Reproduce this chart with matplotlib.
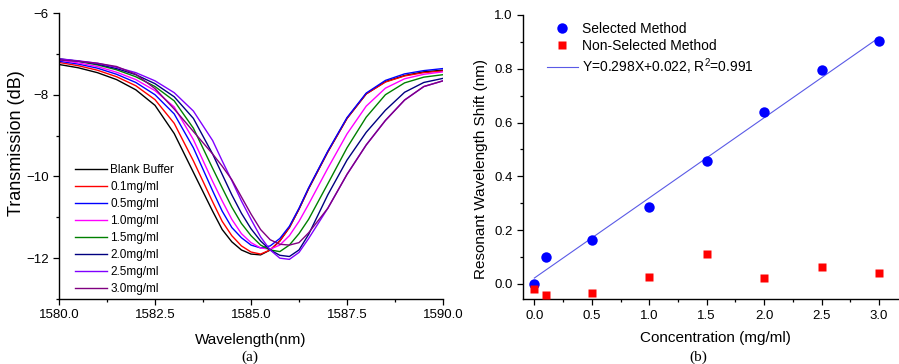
import numpy as np
import matplotlib.pyplot as plt
from matplotlib.ticker import MultipleLocator, FormatStrFormatter

plt.rcParams['font.family'] = ['Liberation Sans', 'DejaVu Sans']
plt.rcParams['mathtext.default'] = 'regular'

# ---- panel (a): transmission spectra ----
wavelength = [1580, 1580.5, 1581, 1581.5, 1582, 1582.5, 1583, 1583.5, 1584, 1584.25,
              1584.5, 1584.75, 1585, 1585.25, 1585.5, 1585.75, 1586, 1586.25, 1586.5,
              1587, 1587.5, 1588, 1588.5, 1589, 1589.5, 1590]

blank = [-7.26, -7.34, -7.46, -7.63, -7.88, -8.26, -8.95, -9.90, -10.85, -11.30,
         -11.60, -11.80, -11.90, -11.92, -11.80, -11.58, -11.25, -10.80, -10.30,
         -9.40, -8.58, -7.98, -7.68, -7.53, -7.44, -7.40]
c01 = [-7.21, -7.29, -7.40, -7.56, -7.78, -8.12, -8.70, -9.62, -10.62, -11.10,
       -11.45, -11.70, -11.85, -11.90, -11.80, -11.58, -11.25, -10.80, -10.30,
       -9.40, -8.58, -7.98, -7.69, -7.54, -7.46, -7.42]
c05 = [-7.18, -7.25, -7.35, -7.50, -7.70, -8.00, -8.47, -9.30, -10.35, -10.85,
       -11.25, -11.50, -11.68, -11.75, -11.70, -11.52, -11.22, -10.78, -10.28,
       -9.38, -8.56, -7.96, -7.65, -7.49, -7.41, -7.36]
c10 = [-7.15, -7.22, -7.31, -7.45, -7.63, -7.90, -8.30, -9.10, -10.12, -10.60,
       -11.05, -11.40, -11.62, -11.75, -11.78, -11.68, -11.45, -11.10, -10.68,
       -9.80, -8.96, -8.28, -7.84, -7.61, -7.50, -7.44]
c15 = [-7.12, -7.18, -7.27, -7.39, -7.56, -7.80, -8.15, -8.82, -9.80, -10.28,
       -10.75, -11.15, -11.45, -11.68, -11.80, -11.84, -11.68, -11.40, -11.05,
       -10.18, -9.30, -8.55, -8.00, -7.71, -7.57, -7.51]
c20 = [-7.13, -7.18, -7.25, -7.36, -7.51, -7.73, -8.05, -8.58, -9.45, -9.95,
       -10.45, -10.90, -11.28, -11.58, -11.80, -11.93, -11.96, -11.80, -11.42,
       -10.45, -9.60, -8.92, -8.38, -7.94, -7.70, -7.60]
c25 = [-7.12, -7.17, -7.23, -7.33, -7.46, -7.66, -7.95, -8.40, -9.12, -9.62,
       -10.10, -10.60, -11.05, -11.48, -11.80, -12.00, -12.03, -11.86, -11.52,
       -10.78, -9.95, -9.23, -8.63, -8.13, -7.80, -7.66]
c30 = [-7.15, -7.18, -7.23, -7.31, -7.50, -7.85, -8.35, -8.90, -9.45, -9.75,
       -10.08, -10.50, -10.92, -11.30, -11.55, -11.66, -11.68, -11.62, -11.38,
       -10.78, -9.95, -9.23, -8.63, -8.13, -7.80, -7.66]

spectra = [blank, c01, c05, c10, c15, c20, c25, c30]
spec_labels = ['Blank Buffer', '0.1mg/ml', '0.5mg/ml', '1.0mg/ml',
               '1.5mg/ml', '2.0mg/ml', '2.5mg/ml', '3.0mg/ml']
spec_colors = ['#000000', '#ff0000', '#0000ff', '#ff00ff',
               '#008000', '#000080', '#8000ff', '#800080']

# ---- panel (b): resonance shift vs concentration ----
conc = [0.0, 0.1, 0.5, 1.0, 1.5, 2.0, 2.5, 3.0]
shift_sel = [0.0, 0.100, 0.165, 0.287, 0.457, 0.638, 0.795, 0.902]
shift_nonsel = [-0.017, -0.040, -0.033, 0.025, 0.112, 0.024, 0.064, 0.039]
fit_slope = 0.298
fit_icpt = 0.022

fig = plt.figure(figsize=(8.99, 3.64), dpi=100)


def style_axes(ax):
    for s in ['top', 'right']:
        ax.spines[s].set_visible(False)
    for s in ['left', 'bottom']:
        ax.spines[s].set_linewidth(1.0)
    ax.tick_params(which='major', direction='out', length=4, width=0.9, labelsize=9.5)
    ax.tick_params(which='minor', direction='out', length=2.5, width=0.9)


# left panel
ax1 = fig.add_axes([59 / 899, 65 / 364, 384 / 899, 286 / 364])
for y, lab, col in zip(spectra, spec_labels, spec_colors):
    ax1.plot(wavelength, y, color=col, lw=1.0, label=lab)
ax1.set_xlim(1580, 1590)
ax1.set_ylim(-13, -6)
ax1.xaxis.set_major_locator(MultipleLocator(2.5))
ax1.xaxis.set_minor_locator(MultipleLocator(1.25))
ax1.xaxis.set_major_formatter(FormatStrFormatter('%.1f'))
ax1.yaxis.set_major_locator(MultipleLocator(2))
ax1.yaxis.set_minor_locator(MultipleLocator(1))
style_axes(ax1)
ax1.set_xlabel('Wavelength(nm)', fontsize=11, labelpad=8)
ax1.set_ylabel('Transmission (dB)', fontsize=13)
ax1.yaxis.set_label_coords(-0.088, 0.545)
ax1.legend(loc='lower left', bbox_to_anchor=(0.02, -0.014), frameon=False,
           fontsize=8.5, handlelength=2.7, handletextpad=0.3, labelspacing=0.42,
           borderaxespad=0.3)
fig.text(250 / 899, 1 - 357 / 364, '(a)', family='Liberation Serif',
         fontsize=11, ha='center', va='center')

# right panel
ax2 = fig.add_axes([523.3 / 899, 64.7 / 364, 374.7 / 899, 284.3 / 364])
fx = np.array([0.0, 3.0])
ax2.plot(fx, fit_slope * fx + fit_icpt, color='#5a5ae6', lw=0.8,
         label='Y=0.298X+0.022, R$^{2}$=0.991', zorder=2)
ax2.plot(conc, shift_sel, 'o', color='#0000ff', ms=7.5, mec='none',
         label='Selected Method', zorder=3)
ax2.plot(conc, shift_nonsel, 's', color='#ff0000', ms=6.3, mec='none',
         label='Non-Selected Method', zorder=3)
ax2.set_xlim(-0.096, 3.165)
ax2.set_ylim(-0.057, 1.0)
ax2.xaxis.set_major_locator(MultipleLocator(0.5))
ax2.xaxis.set_minor_locator(MultipleLocator(0.25))
ax2.xaxis.set_major_formatter(FormatStrFormatter('%.1f'))
ax2.yaxis.set_major_locator(MultipleLocator(0.2))
ax2.yaxis.set_minor_locator(MultipleLocator(0.1))
ax2.yaxis.set_major_formatter(FormatStrFormatter('%.1f'))
style_axes(ax2)
ax2.set_xlabel('Concentration (mg/ml)', fontsize=11)
ax2.xaxis.set_label_coords(0.512, -0.113)
ax2.set_ylabel('Resonant Wavelength Shift (nm)', fontsize=11)
ax2.yaxis.set_label_coords(-0.094, 0.46)
h, l = ax2.get_legend_handles_labels()
ax2.legend([h[1], h[2], h[0]], [l[1], l[2], l[0]], loc='upper left',
           bbox_to_anchor=(0.03, 1.02), frameon=False, fontsize=10,
           handlelength=2.2, handletextpad=0.3, labelspacing=0.25)
fig.text(698 / 899, 1 - 357 / 364, '(b)', family='Liberation Serif',
         fontsize=11, ha='center', va='center')

fig.savefig('out.png', dpi=100)
